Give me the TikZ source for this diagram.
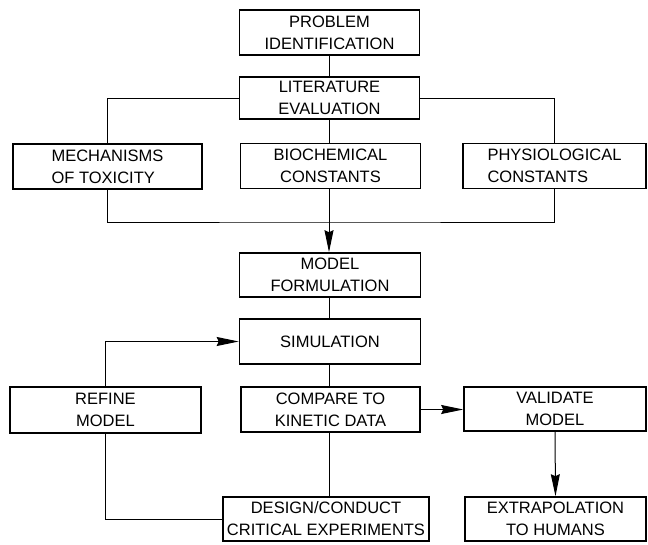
\documentclass[tikz,border=0pt]{standalone}
\usepackage{fontspec}
\setmainfont{Liberation Sans}
\usetikzlibrary{arrows.meta}
\begin{document}
\begin{tikzpicture}[x=1pt,y=-1pt,
  box/.style={draw, line width=1.6pt, minimum height=45pt, inner sep=0pt, align=center,
    font=\fontsize{16.5}{22}\selectfont},
  conn/.style={line width=1pt},
  arr/.style={conn, -{Stealth[length=22pt,width=9pt,inset=2pt]}}]
\useasboundingbox (0,0) rectangle (648,544);
% nodes
\node[box, minimum width=180pt] (prob)   at (329.5,32.5) {PROBLEM\\IDENTIFICATION};
\node[box, minimum width=180pt, minimum height=42pt] (lit) at (329.5,98) {LITERATURE\\EVALUATION};
\node[box, minimum width=189pt, align=left] (mech) at (107.5,166.5) {MECHANISMS\\OF TOXICITY};
\node[box, minimum width=180pt] (bio)    at (330.5,166) {BIOCHEMICAL\\CONSTANTS};
\node[box, minimum width=183pt, align=left] (phys) at (554.5,166) {PHYSIOLOGICAL\\CONSTANTS};
\node[box, minimum width=181pt, minimum height=44pt] (model) at (330,275) {MODEL\\FORMULATION};
\node[box, minimum width=181pt] (sim)    at (330,341.5) {SIMULATION};
\node[box, minimum width=191pt, minimum height=46pt] (refine) at (105.5,410) {REFINE\\MODEL};
\node[box, minimum width=179pt] (comp)   at (330.5,409.5) {COMPARE TO\\KINETIC DATA};
\node[box, minimum width=182pt, minimum height=44pt] (valid) at (555,409) {VALIDATE\\MODEL};
\node[box, minimum width=206pt, minimum height=44pt] (design) at (326,519) {DESIGN/CONDUCT\\CRITICAL EXPERIMENTS};
\node[box, minimum width=181pt, minimum height=44pt] (extrap) at (555.5,519) {EXTRAPOLATION\\TO HUMANS};
\coordinate (merge) at (329,222);
% connectors
\draw[conn] (prob) -- (lit);
\draw[conn] (lit.west) -| (mech.north);
\draw[conn] (lit.east) -| (phys.north);
\draw[conn] (lit.south -| merge) -- (bio.north -| merge);
\draw[conn] (mech.south) |- (merge) -| (phys.south);
\draw[arr] (bio.south -| merge) -- (model.north -| merge);
\draw[conn] (model.south -| merge) -- (sim.north -| merge);
\draw[arr] (refine.north) |- (sim.west);
\draw[conn] (sim.south -| merge) -- (comp.north -| merge);
\draw[arr] (comp.east) -- (valid.west |- comp.east);
\draw[conn] (comp.south -| merge) -- (design.north -| merge);
\draw[conn] (design.west) -| (refine.south);
\draw[arr] (valid.south) -- (extrap.north);
\end{tikzpicture}
\end{document}
